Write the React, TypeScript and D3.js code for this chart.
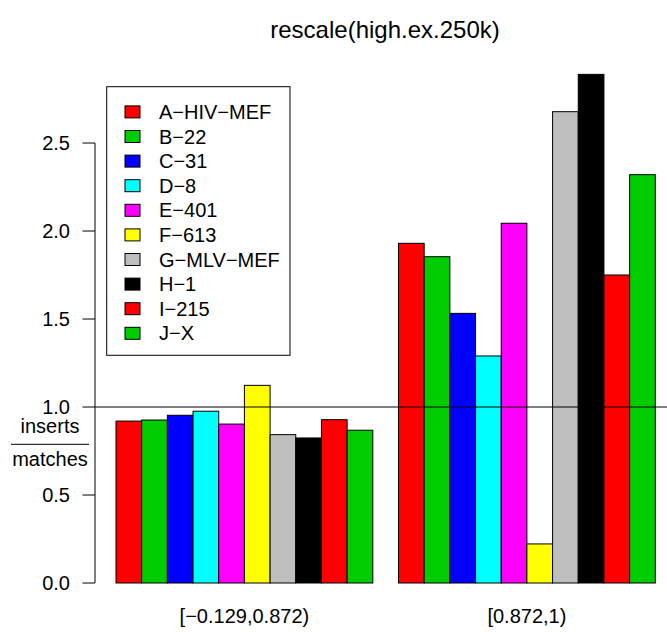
import React from "react";
import * as d3 from "d3";

const groups = ["[−0.129,0.872)", "[0.872,1)"];
const series = ["A−HIV−MEF", "B−22", "C−31", "D−8", "E−401", "F−613", "G−MLV−MEF", "H−1", "I−215", "J−X"];
const colors = ["#FF0000", "#00CD00", "#0000FF", "#00FFFF", "#FF00FF", "#FFFF00", "#BEBEBE", "#000000", "#FF0000", "#00CD00"];
const group1Values = [0.92, 0.926, 0.953, 0.976, 0.903, 1.123, 0.843, 0.824, 0.928, 0.868];
const group2Values = [1.93, 1.854, 1.532, 1.29, 2.044, 0.222, 2.678, 2.89, 1.75, 2.32];
const values = [group1Values, group2Values];
const yTicks = [0, 0.5, 1, 1.5, 2, 2.5];
const title = "rescale(high.ex.250k)";

const W = 667;
const H = 632;
const FONT = "'Liberation Sans', Arial, Helvetica, sans-serif";

export default function App() {
  // bar slot units: group g, bar i => slot = g*11 + 1 + i (R barplot beside spacing)
  const x = d3.scaleLinear().domain([1, 22]).range([116, 655.3]);
  const y = d3.scaleLinear().domain([0, 1]).range([583, 407]);
  const bw = x(2) - x(1);
  const axisX = 95;

  return (
    <svg
      width={W}
      height={H}
      style={{ position: "fixed", left: 0, top: 0, background: "#fff" }}
      fontFamily={FONT}
    >
      <rect x={0} y={0} width={W} height={H} fill="#fff" />
      <text x={385} y={38} fontSize={24} textAnchor="middle" fill="#000">
        {title}
      </text>

      {values.map((vals, g) =>
        vals.map((v, i) => {
          const slot = g * 11 + 1 + i;
          return (
            <rect
              key={`${g}-${i}`}
              x={x(slot)}
              y={y(v)}
              width={bw}
              height={y(0) - y(v)}
              fill={colors[i]}
              stroke="#000"
              strokeWidth={1}
            />
          );
        })
      )}

      {/* reference line */}
      <line x1={axisX} x2={W} y1={y(1)} y2={y(1)} stroke="#000" strokeWidth={1} />

      {/* y axis */}
      <line x1={axisX} x2={axisX} y1={y(0)} y2={y(2.5)} stroke="#000" strokeWidth={1} />
      {yTicks.map((t) => (
        <g key={t}>
          <line x1={axisX - 12.5} x2={axisX} y1={y(t)} y2={y(t)} stroke="#000" strokeWidth={1} />
          <text
            x={70}
            y={y(t)}
            fontSize={20}
            textAnchor="end"
            dominantBaseline="central"
            fill="#000"
          >
            {t.toFixed(1)}
          </text>
        </g>
      ))}

      {/* y label as fraction */}
      <text x={50} y={432.5} fontSize={20} textAnchor="middle" fill="#000">
        inserts
      </text>
      <line x1={11} x2={89} y1={444.3} y2={444.3} stroke="#000" strokeWidth={1} />
      <text x={50} y={466} fontSize={20} textAnchor="middle" fill="#000">
        matches
      </text>

      {/* group labels */}
      {groups.map((gname, g) => {
        const cx = (x(g * 11 + 1) + x(g * 11 + 10) + bw) / 2;
        return (
          <text key={gname} x={cx} y={623} fontSize={20} textAnchor="middle" fill="#000">
            {gname}
          </text>
        );
      })}

      {/* legend */}
      <rect x={106.7} y={86.7} width={183.3} height={268.6} fill="#fff" stroke="#000" strokeWidth={1} />
      {series.map((s, i) => {
        const cy = 111.9 + i * 24.6;
        return (
          <g key={s + i}>
            <rect x={125} y={cy - 6} width={15} height={12} fill={colors[i]} stroke="#000" strokeWidth={1} />
            <text x={159} y={cy} fontSize={20} dominantBaseline="central" fill="#000">
              {s}
            </text>
          </g>
        );
      })}
    </svg>
  );
}
